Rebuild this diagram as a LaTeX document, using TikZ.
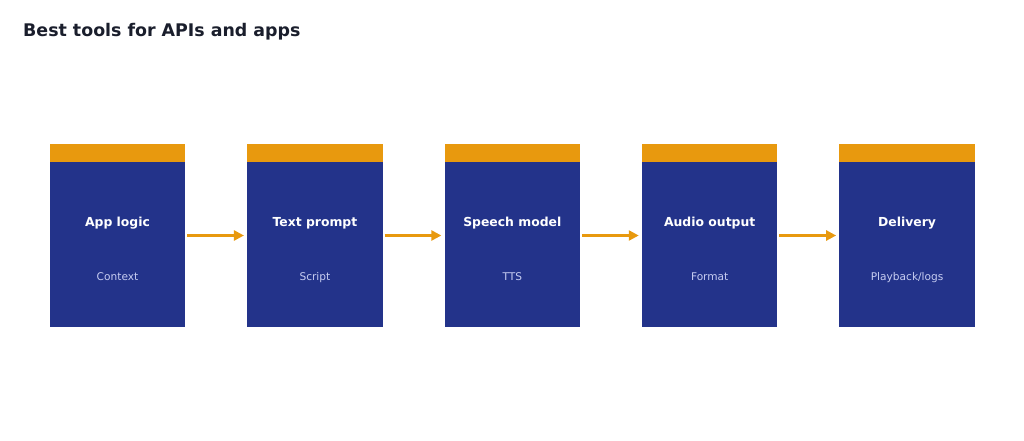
\documentclass[tikz,border=0pt]{standalone}
\usepackage{fontspec}
\setmainfont{DejaVu Sans}
\usetikzlibrary{positioning,arrows.meta}
\definecolor{stageblue}{RGB}{35,51,138}
\definecolor{stageorange}{RGB}{232,153,14}
\definecolor{subtext}{RGB}{200,206,242}
\definecolor{titleink}{RGB}{26,30,44}
\tikzset{
  stagebox/.style={fill=stageblue, minimum width=135.5pt, minimum height=183pt, inner sep=0pt},
  stagebar/.style={fill=stageorange, minimum width=135.5pt, minimum height=18pt, inner sep=0pt, anchor=north},
  stagename/.style={text=white, font=\fontsize{12.4}{15}\selectfont\bfseries, inner sep=0pt},
  stagenote/.style={text=subtext, font=\fontsize{10.6}{13}\selectfont, inner sep=0pt},
  flow/.style={draw=stageorange, line width=2.4pt, -{Triangle[length=10pt,width=10pt]},
    shorten <=1.75pt, shorten >=3pt}
}

\begin{document}
\begin{tikzpicture}[x=1pt,y=-1pt]
\useasboundingbox (0,0) rectangle (1024,441);
\node[anchor=base west, inner sep=0pt, text=titleink, font=\fontsize{17.4}{21}\selectfont\bfseries] (title) at (23,36.5) {Best tools for APIs and apps};

\node[stagebox] (app) at (117.5,235.5) {};
\node[stagebox, right=61.5pt of app] (prompt) {};
\node[stagebox, right=61.5pt of prompt] (speech) {};
\node[stagebox, right=61.5pt of speech] (audio) {};
\node[stagebox, right=61.5pt of audio] (delivery) {};

\node[stagebar] (appbar) at (app.north) {};
\node[stagebar] (promptbar) at (prompt.north) {};
\node[stagebar] (speechbar) at (speech.north) {};
\node[stagebar] (audiobar) at (audio.north) {};
\node[stagebar] (deliverybar) at (delivery.north) {};

\node[stagename, above=9.5pt of app.center, anchor=base] (appname) {App logic};
\node[stagename, above=9.5pt of prompt.center, anchor=base] (promptname) {Text prompt};
\node[stagename, above=9.5pt of speech.center, anchor=base] (speechname) {Speech model};
\node[stagename, above=9.5pt of audio.center, anchor=base] (audioname) {Audio output};
\node[stagename, above=9.5pt of delivery.center, anchor=base] (deliveryname) {Delivery};

\node[stagenote, below=44.5pt of app.center, anchor=base] (appnote) {Context};
\node[stagenote, below=44.5pt of prompt.center, anchor=base] (promptnote) {Script};
\node[stagenote, below=44.5pt of speech.center, anchor=base] (speechnote) {TTS};
\node[stagenote, below=44.5pt of audio.center, anchor=base] (audionote) {Format};
\node[stagenote, below=44.5pt of delivery.center, anchor=base] (deliverynote) {Playback/logs};

\draw[flow] (app.east) -- (prompt.west);
\draw[flow] (prompt.east) -- (speech.west);
\draw[flow] (speech.east) -- (audio.west);
\draw[flow] (audio.east) -- (delivery.west);
\end{tikzpicture}
\end{document}
